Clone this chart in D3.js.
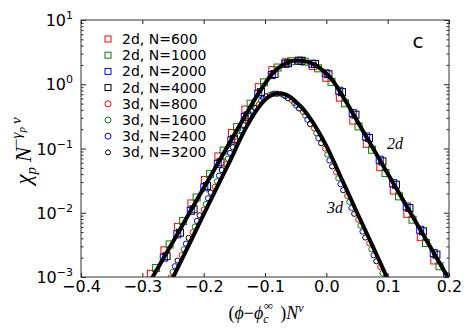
<!DOCTYPE html>
<html>
<head>
<meta charset="utf-8">
<script src="https://cdn.jsdelivr.net/npm/d3@7"></script>
<style>
  body { margin: 0; background: #fff; }
  svg { display: block; }
</style>
</head>
<body>
<div id="chart"></div>
<script>
// axis ticks
const xTicks = [-0.4, -0.3, -0.2, -0.1, 0.0, 0.1, 0.2];
const yTicks = [1e-3, 1e-2, 1e-1, 1, 10];
const yTickExp = ['\u22123', '\u22122', '\u22121', '0', '1'];

// scaling fits
const fit2d = [[-0.290, 0.00077], [-0.250, 0.00355], [-0.220, 0.0112], [-0.190, 0.0355], [-0.160, 0.112],
  [-0.130, 0.355], [-0.110, 0.741], [-0.095, 1.20], [-0.080, 1.74], [-0.065, 2.14], [-0.050, 2.34],
  [-0.035, 2.29], [-0.020, 2.04], [-0.005, 1.62], [0.010, 1.15], [0.025, 0.692], [0.040, 0.398],
  [0.060, 0.186], [0.100, 0.0407], [0.150, 0.00617], [0.205, 0.00076]];
const fit3d = [[-0.256, 0.00075], [-0.220, 0.0038], [-0.190, 0.0148], [-0.160, 0.056], [-0.130, 0.219],
  [-0.115, 0.38], [-0.100, 0.575], [-0.090, 0.676], [-0.080, 0.716], [-0.070, 0.708], [-0.060, 0.646],
  [-0.050, 0.537], [-0.040, 0.437], [-0.030, 0.331], [-0.015, 0.20], [0.000, 0.11], [0.020, 0.0427],
  [0.050, 0.0101], [0.075, 0.0031], [0.104, 0.00077]];

// 2d data (squares)
const sq600 = [[-0.286, 0.00112], [-0.264, 0.0026], [-0.242, 0.00603], [-0.220, 0.01396], [-0.198, 0.0324],
  [-0.176, 0.0752], [-0.154, 0.174], [-0.132, 0.404], [-0.110, 0.90], [-0.088, 1.66], [-0.066, 2.20],
  [-0.044, 2.30], [-0.022, 1.92], [0.000, 1.26], [0.022, 0.619], [0.044, 0.272], [0.066, 0.118],
  [0.088, 0.0512], [0.110, 0.0222], [0.132, 0.00962], [0.154, 0.00417], [0.176, 0.00181], [0.198, 0.00078]];
const sq1000 = [[-0.2775, 0.00138], [-0.2555, 0.00321], [-0.2335, 0.00745], [-0.2115, 0.01726], [-0.1895, 0.040],
  [-0.1675, 0.0927], [-0.1455, 0.215], [-0.1235, 0.498], [-0.1015, 1.07], [-0.0795, 1.82], [-0.0575, 2.28],
  [-0.0355, 2.25], [-0.0135, 1.77], [0.0085, 1.09], [0.0305, 0.506], [0.0525, 0.221], [0.0745, 0.0958],
  [0.0965, 0.0415], [0.1185, 0.018], [0.1405, 0.0078], [0.1625, 0.00338], [0.1845, 0.00147]];
const sq2000 = [[-0.287, 0.00086], [-0.265, 0.0020], [-0.243, 0.00461], [-0.221, 0.0107], [-0.199, 0.0248],
  [-0.177, 0.0575], [-0.155, 0.133], [-0.133, 0.309], [-0.111, 0.714], [-0.089, 1.39], [-0.067, 2.08],
  [-0.045, 2.33], [-0.023, 2.09], [-0.001, 1.48], [0.021, 0.792], [0.043, 0.355], [0.065, 0.154],
  [0.087, 0.0668], [0.109, 0.0289], [0.131, 0.01254], [0.153, 0.00543], [0.175, 0.00236], [0.197, 0.00102]];
const sq4000 = [[-0.2605, 0.00211], [-0.2385, 0.00489], [-0.2165, 0.0113], [-0.1945, 0.0262], [-0.1725, 0.061],
  [-0.1505, 0.141], [-0.1285, 0.327], [-0.1065, 0.754], [-0.0845, 1.445], [-0.0625, 2.12], [-0.0405, 2.32],
  [-0.0185, 2.07], [0.0035, 1.43], [0.0255, 0.753], [0.0475, 0.336], [0.0695, 0.1455], [0.0915, 0.063],
  [0.1135, 0.0273], [0.1355, 0.01186], [0.1575, 0.00514], [0.1795, 0.00223]];

// 3d data (circles)
const ci800 = [[-0.254, 0.00098], [-0.236, 0.0022], [-0.218, 0.00497], [-0.200, 0.0112], [-0.182, 0.0252],
  [-0.164, 0.0568], [-0.146, 0.128], [-0.128, 0.273], [-0.110, 0.488], [-0.092, 0.684], [-0.074, 0.708],
  [-0.056, 0.557], [-0.038, 0.37], [-0.020, 0.2065], [-0.002, 0.0998], [0.016, 0.0427], [0.034, 0.01824],
  [0.052, 0.0078], [0.070, 0.00333], [0.088, 0.00143]];
const ci1600 = [[-0.2505, 0.0012], [-0.2325, 0.0027], [-0.2145, 0.00608], [-0.1965, 0.0137], [-0.1785, 0.0309],
  [-0.1605, 0.0695], [-0.1425, 0.157], [-0.1245, 0.322], [-0.1065, 0.552], [-0.0885, 0.702], [-0.0705, 0.679],
  [-0.0525, 0.51], [-0.0345, 0.326], [-0.0165, 0.173], [0.0015, 0.0807], [0.0195, 0.0345], [0.0375, 0.01475],
  [0.0555, 0.0063], [0.0735, 0.0027], [0.0915, 0.00115]];
const ci2400 = [[-0.247, 0.00147], [-0.229, 0.0033], [-0.211, 0.00745], [-0.193, 0.0168], [-0.175, 0.0378],
  [-0.157, 0.0853], [-0.139, 0.192], [-0.121, 0.38], [-0.103, 0.604], [-0.085, 0.715], [-0.067, 0.652],
  [-0.049, 0.465], [-0.031, 0.28], [-0.013, 0.145], [0.005, 0.0652], [0.023, 0.0279], [0.041, 0.0119],
  [0.059, 0.0051], [0.077, 0.00218], [0.095, 0.00093]];
const ci3200 = [[-0.2425, 0.0018], [-0.2245, 0.00405], [-0.2065, 0.00912], [-0.1885, 0.0206], [-0.1705, 0.0463],
  [-0.1525, 0.1045], [-0.1345, 0.231], [-0.1165, 0.43], [-0.0985, 0.65], [-0.0805, 0.711], [-0.0625, 0.605],
  [-0.0445, 0.419], [-0.0265, 0.24], [-0.0085, 0.121], [0.0095, 0.0527], [0.0275, 0.0225], [0.0455, 0.00964],
  [0.0635, 0.00412], [0.0815, 0.00176]];

const seriesLabels = ['2d, N=600', '2d, N=1000', '2d, N=2000', '2d, N=4000',
  '3d, N=800', '3d, N=1600', '3d, N=2400', '3d, N=3200'];
const seriesColors = ['#ff0000', '#008000', '#0000ff', '#000000', '#ff0000', '#008000', '#0000ff', '#000000'];
const seriesShapes = ['square', 'square', 'square', 'square', 'circle', 'circle', 'circle', 'circle'];
const seriesData = [sq600, sq1000, sq2000, sq4000, ci800, ci1600, ci2400, ci3200];

const W = 471, H = 336;
const margin = { left: 81, right: 22, top: 20, bottom: 59 };
const FONT = 'DejaVu Sans, sans-serif';
const MATH = 'Liberation Serif, DejaVu Serif, serif';

const svg = d3.select('#chart').append('svg')
  .attr('width', W)
  .attr('height', H);

const x = d3.scaleLinear().domain([-0.4, 0.2]).range([margin.left, W - margin.right]);
const y = d3.scaleLog().domain([1e-3, 10]).range([H - margin.bottom, margin.top]);
const [x0, x1] = x.range();
const [y0, y1] = y.range(); // y0 bottom, y1 top

svg.append('clipPath').attr('id', 'plot-clip')
  .append('rect')
  .attr('x', x0).attr('y', y1)
  .attr('width', x1 - x0).attr('height', y0 - y1);

const plot = svg.append('g').attr('clip-path', 'url(#plot-clip)');

// markers
seriesData.forEach((data, i) => {
  const g = plot.append('g')
    .attr('fill', 'none')
    .attr('stroke', seriesColors[i])
    .attr('stroke-width', 1);
  if (seriesShapes[i] === 'square') {
    g.selectAll('rect').data(data).join('rect')
      .attr('x', d => x(d[0]) - 3.5)
      .attr('y', d => y(d[1]) - 3.5)
      .attr('width', 7)
      .attr('height', 7);
  } else {
    g.selectAll('circle').data(data).join('circle')
      .attr('cx', d => x(d[0]))
      .attr('cy', d => y(d[1]))
      .attr('r', 2.6);
  }
});

// fitted lines
const line = d3.line()
  .x(d => x(d[0]))
  .y(d => y(d[1]))
  .curve(d3.curveMonotoneX);

[fit2d, fit3d].forEach(data => {
  plot.append('path')
    .datum(data)
    .attr('d', line)
    .attr('fill', 'none')
    .attr('stroke', '#000')
    .attr('stroke-width', 4)
    .attr('stroke-linejoin', 'round');
});

// axes (ticks inside, on all four sides)
const minorY = y.ticks().filter(v => !yTicks.some(t => Math.abs(t - v) < 1e-12));

function styleAxis(g) {
  g.select('.domain').remove();
  g.selectAll('.tick line').attr('stroke', '#222');
}

svg.append('g')
  .attr('transform', `translate(0,${y0})`)
  .call(d3.axisBottom(x).tickValues(xTicks).tickSizeInner(-4).tickSizeOuter(0)
    .tickPadding(4).tickFormat(d3.format('.1f')))
  .call(styleAxis)
  .call(g => g.selectAll('.tick text')
    .attr('font-family', FONT).attr('font-size', 16).attr('fill', '#000'));

svg.append('g')
  .attr('transform', `translate(0,${y1})`)
  .call(d3.axisTop(x).tickValues(xTicks).tickSizeInner(-4).tickSizeOuter(0).tickFormat(''))
  .call(styleAxis);

[[x0, d3.axisLeft], [x1, d3.axisRight]].forEach(([pos, axisFn]) => {
  svg.append('g')
    .attr('transform', `translate(${pos},0)`)
    .call(axisFn(y).tickValues(yTicks).tickSizeInner(-5).tickSizeOuter(0).tickFormat(''))
    .call(styleAxis);
  svg.append('g')
    .attr('transform', `translate(${pos},0)`)
    .call(axisFn(y).tickValues(minorY).tickSizeInner(-2.5).tickSizeOuter(0).tickFormat(''))
    .call(styleAxis);
});

// y tick labels as powers of ten
const yLabels = svg.append('g')
  .attr('font-family', FONT)
  .attr('font-size', 16)
  .attr('text-anchor', 'end');
yTicks.forEach((t, i) => {
  const txt = yLabels.append('text')
    .attr('x', x0 - 8)
    .attr('y', y(t) + 6);
  txt.append('tspan').text('10');
  txt.append('tspan').attr('font-size', 11).attr('dy', -7).text(yTickExp[i]);
});

// frame
svg.append('rect')
  .attr('x', x0).attr('y', y1)
  .attr('width', x1 - x0).attr('height', y0 - y1)
  .attr('fill', 'none')
  .attr('stroke', '#333')
  .attr('stroke-width', 1);

// legend
const legend = svg.append('g').attr('font-family', FONT).attr('font-size', 14);
seriesLabels.forEach((label, i) => {
  const ly = 39 + i * 16.2;
  const g = legend.append('g');
  if (seriesShapes[i] === 'square') {
    g.append('rect')
      .attr('x', 105).attr('y', ly - 3)
      .attr('width', 6).attr('height', 6)
      .attr('fill', 'none').attr('stroke', seriesColors[i]);
  } else {
    g.append('circle')
      .attr('cx', 108).attr('cy', ly)
      .attr('r', i === 7 ? 2.5 : 3)
      .attr('fill', 'none').attr('stroke', seriesColors[i]);
  }
  g.append('text')
    .attr('x', 122).attr('y', ly + 5)
    .text(label);
});

// panel letter and curve labels
svg.append('text')
  .attr('x', 418).attr('y', 48)
  .attr('text-anchor', 'middle')
  .attr('font-family', FONT)
  .attr('font-size', 20)
  .text('c');

svg.append('text')
  .attr('x', 387).attr('y', 149)
  .attr('font-family', MATH).attr('font-style', 'italic').attr('font-size', 16)
  .text('2d');

svg.append('text')
  .attr('x', 327).attr('y', 213)
  .attr('font-family', MATH).attr('font-style', 'italic').attr('font-size', 16)
  .text('3d');

// axis titles
const xt = svg.append('text')
  .attr('x', 266).attr('y', 319)
  .attr('text-anchor', 'middle')
  .attr('font-family', MATH).attr('font-size', 18);
xt.append('tspan').text('(');
xt.append('tspan').attr('font-style', 'italic').text('\u03d5');
xt.append('tspan').text('\u2212');
xt.append('tspan').attr('font-style', 'italic').text('\u03d5');
xt.append('tspan').attr('font-style', 'italic').attr('font-size', 12).attr('dy', 4).text('c');
xt.append('tspan').attr('font-size', 13).attr('dx', -5).attr('dy', -13).text('\u221e');
xt.append('tspan').attr('dy', 9).text('\u2009\u2009)');
xt.append('tspan').attr('font-style', 'italic').text('N');
xt.append('tspan').attr('font-style', 'italic').attr('font-size', 12).attr('dy', -7).text('v');

const yt = svg.append('text')
  .attr('transform', `translate(31,151) rotate(-90)`)
  .attr('text-anchor', 'middle')
  .attr('font-family', MATH).attr('font-style', 'italic').attr('font-size', 23);
yt.append('tspan').text('\u03c7');
yt.append('tspan').attr('font-size', 15).attr('dy', 5).text('p');
yt.append('tspan').attr('dy', -5).text('\u2009N');
yt.append('tspan').attr('font-size', 15).attr('font-style', 'normal').attr('dy', -10).text('\u2212');
yt.append('tspan').attr('font-size', 15).text('\u03b3');
yt.append('tspan').attr('font-size', 11).attr('dy', 4).text('p');
yt.append('tspan').attr('font-size', 15).attr('dy', -4).text('\u2009v');
</script>
</body>
</html>
